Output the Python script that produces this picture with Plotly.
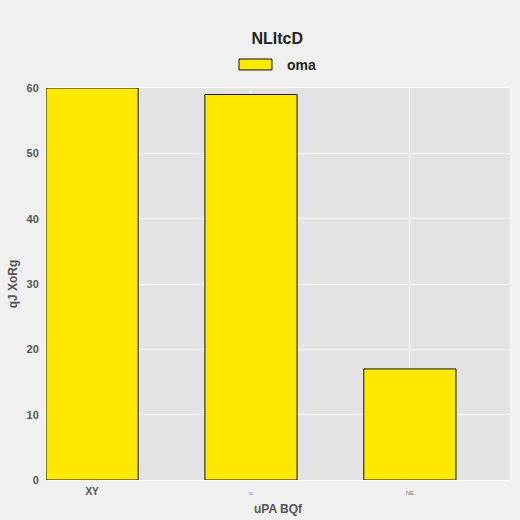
import plotly.graph_objects as go

# chart data
categories = ["XY", "o", "NE"]
values = [60, 59, 17]
series_name = "oma"
chart_title = "NLItcD"
x_title = "uPA BQf"
y_title = "qJ XoRg"
y_ticks = [0, 10, 20, 30, 40, 50, 60]

bar_color = "#ffe800"

# per-tick label styling (first label bold and larger, rest tiny)
tick_styles = [
    "<b style='font-size:10px'>{}</b>",
    "<span style='font-size:6px;color:#777777'>{}</span>",
    "<span style='font-size:6px;color:#777777'>{}</span>",
]
tick_text = [fmt.format(c) for fmt, c in zip(tick_styles, categories)]

fig = go.Figure()
fig.add_trace(go.Bar(
    x=list(range(len(categories))),
    y=values,
    name=series_name,
    width=0.58,
    marker=dict(color=bar_color, line=dict(color="#111111", width=1)),
    showlegend=False,
))

# legend drawn by hand so the swatch is a wide box like the original
fig.add_shape(
    type="rect", xref="paper", yref="paper",
    x0=0.416, x1=0.487, y0=1.046, y1=1.074,
    fillcolor=bar_color, line=dict(color="#111111", width=1),
)
fig.add_annotation(
    text="<b>" + series_name + "</b>", xref="paper", yref="paper",
    x=0.515, y=1.059, xanchor="left", yanchor="middle", showarrow=False,
    font=dict(size=14, color="#222222"),
)

fig.update_layout(
    width=520,
    height=520,
    paper_bgcolor="#f0f0f0",
    plot_bgcolor="#e3e3e3",
    font=dict(family="Liberation Sans, Arial, sans-serif", color="#555555"),
    title=dict(
        text="<b>" + chart_title + "</b>",
        x=0.533, xanchor="center", y=0.926, yanchor="middle",
        font=dict(size=16, color="#222222"),
    ),
    margin=dict(l=46, r=10, t=88, b=40),
)

fig.update_xaxes(
    tickmode="array",
    tickvals=list(range(len(categories))),
    ticktext=tick_text,
    range=[-0.29, 2.63],
    automargin=False,
    showgrid=True, gridcolor="#ffffff", gridwidth=1,
    showline=True, linecolor="#ffffff", linewidth=1, mirror=True,
    zeroline=False,
    ticks="",
    title=dict(text="<b>" + x_title + "</b>", font=dict(size=12, color="#555555"), standoff=8),
)
fig.update_yaxes(
    range=[0, 60],
    tickmode="array",
    tickvals=y_ticks,
    ticktext=["<b>{}</b>".format(v) for v in y_ticks],
    tickfont=dict(size=11, color="#555555"),
    automargin=False,
    showgrid=True, gridcolor="#ffffff", gridwidth=1,
    showline=True, linecolor="#ffffff", linewidth=1, mirror=True,
    zeroline=False,
    ticks="", ticklabelstandoff=4,
    title=dict(text="<b>" + y_title + "</b>", font=dict(size=12, color="#555555"), standoff=6),
)

fig.write_html(
    "out.html",
    config={"displayModeBar": False},
    post_script="document.body.style.margin='0';",
)
